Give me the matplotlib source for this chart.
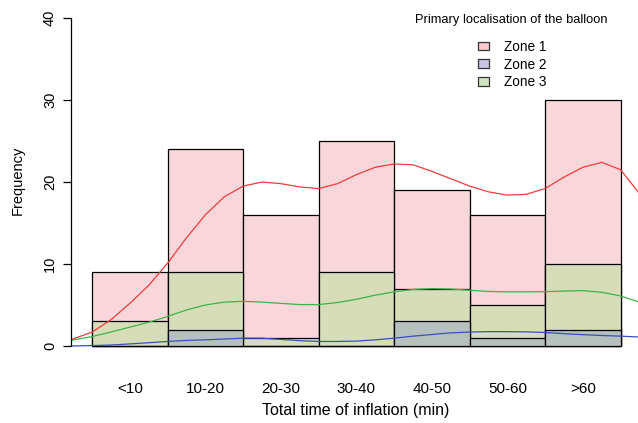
import numpy as np
import matplotlib.pyplot as plt
from matplotlib.patches import Patch

plt.rcParams['font.family'] = ['Liberation Sans', 'DejaVu Sans']

# bins (minutes)
labels = ['<10', '10-20', '20-30', '30-40', '40-50', '50-60', '>60']
edges = [0, 10, 20, 30, 40, 50, 60, 70]

zone1 = [9, 24, 16, 25, 19, 16, 30]
zone2 = [0, 2, 0, 0, 3, 1, 2]
zone3 = [3, 9, 1, 9, 7, 5, 10]

# smoothed curves (x in minutes, y in frequency)
curve_x = [-2.7, 0, 2.5, 5, 7.5, 10, 12.5, 15, 17.5, 20, 22.5, 25, 27.5, 30,
           32.5, 35, 37.5, 40, 42.5, 45, 47.5, 50, 52.5, 55, 57.5, 60, 62.5,
           65, 67.5, 70, 72.3]
red_y = [0.8, 1.7, 3.2, 5.2, 7.4, 10.1, 13.2, 16.0, 18.2, 19.5, 20.0, 19.8,
         19.4, 19.2, 19.8, 20.9, 21.8, 22.2, 22.1, 21.3, 20.4, 19.5, 18.8,
         18.4, 18.5, 19.2, 20.6, 21.8, 22.4, 21.5, 18.8]
green_y = [0.7, 1.15, 1.7, 2.3, 2.9, 3.6, 4.4, 5.0, 5.35, 5.45, 5.35, 5.2,
           5.05, 5.05, 5.3, 5.7, 6.2, 6.6, 6.9, 7.0, 6.95, 6.8, 6.65, 6.6,
           6.6, 6.62, 6.7, 6.75, 6.55, 6.1, 5.4]
blue_y = [0.0, 0.05, 0.12, 0.25, 0.4, 0.55, 0.68, 0.75, 0.85, 0.95, 0.95,
          0.8, 0.65, 0.55, 0.55, 0.6, 0.75, 0.95, 1.2, 1.4, 1.6, 1.7, 1.75,
          1.75, 1.72, 1.65, 1.5, 1.38, 1.28, 1.2, 1.1]

fig = plt.figure(figsize=(6.38, 4.23), dpi=100)
ax = fig.add_axes([71 / 638, 1 - 350 / 423, 567 / 638, 340 / 423])

left = edges[:-1]
w = np.diff(edges)
kw = dict(width=w, align='edge', edgecolor='black', linewidth=0.9)
ax.bar(left, zone1, color='#F9D6D9', **kw)
ax.bar(left, zone3, color='#D7DDB9', **kw)
ax.bar(left, zone2, color='#B6C0BC', **kw)

ax.plot(curve_x, red_y, color='#F03C3C', lw=0.9)
ax.plot(curve_x, green_y, color='#3CB44A', lw=0.9)
ax.plot(curve_x, blue_y, color='#3A4FBF', lw=0.9)

ax.set_xlim(-2.8, 72.3)
ax.set_ylim(-0.49, 40.98)

for s in ['top', 'right', 'bottom']:
    ax.spines[s].set_visible(False)
ax.spines['left'].set_bounds(0, 40)
ax.spines['left'].set_linewidth(0.9)
ax.set_yticks([0, 10, 20, 30, 40])
ax.tick_params(axis='y', length=6, width=0.9, labelsize=10.5, pad=4)
for t in ax.get_yticklabels():
    t.set_rotation(90)
    t.set_va('center')

centers = [(a + b) / 2 for a, b in zip(edges[:-1], edges[1:])]
ax.set_xticks(centers)
ax.set_xticklabels(labels, fontsize=11)
ax.tick_params(axis='x', length=0, pad=23)

ax.set_ylabel('Frequency', fontsize=10.5, labelpad=13)
fig.text(356 / 638, 1 - 410 / 423, 'Total time of inflation (min)',
         ha='center', va='center', fontsize=11.5)

fig.text(511 / 638, 1 - 20 / 423, 'Primary localisation of the balloon',
         ha='center', va='center', fontsize=9.3)
handles = [Patch(facecolor=c, edgecolor='#333333', linewidth=0.9)
           for c in ['#F8C8CC', '#C8C6E6', '#CDE4C1']]
fig.legend(handles, ['Zone 1', 'Zone 2', 'Zone 3'], frameon=False,
           loc='upper left', bbox_to_anchor=(471 / 638, 1 - 33 / 423),
           fontsize=9.8, handlelength=0.85, handleheight=0.6,
           handletextpad=1.1, labelspacing=0.28, borderpad=0)

fig.savefig('out.png', dpi=100)
